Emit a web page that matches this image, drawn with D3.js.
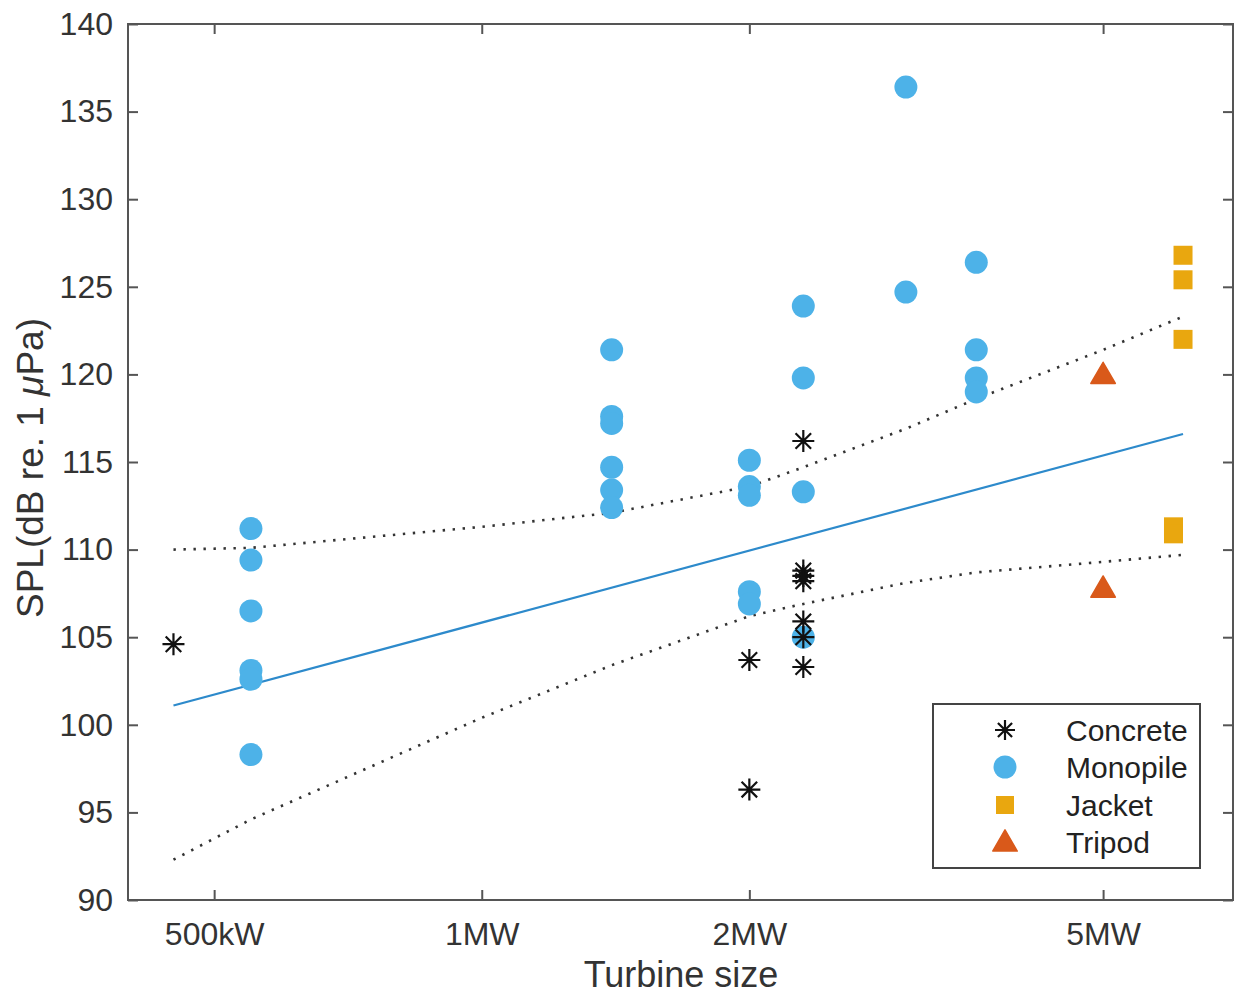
<!DOCTYPE html>
<head>
    <meta charset="utf-8">
    <script src="https://d3js.org/d3.v7.min.js"></script>
    <style>
        body { margin:0; background:#fff; }
        svg text { font-family: "Liberation Sans", Arial, sans-serif; }
    </style>
</head>
<body>
    <svg id="svgelem" width="1235" height="996"></svg>

    <script>
        // turbine sizes in kW, SPL in dB
        var concreteX = [450, 2000, 2000, 2300, 2300, 2300, 2300, 2300, 2300, 2300];
        var concreteY = [104.6, 103.7, 96.3, 116.2, 108.8, 108.5, 108.2, 105.9, 105.0, 103.3];

        var monoX = [550, 550, 550, 550, 550, 550,
                     1400, 1400, 1400, 1400, 1400, 1400,
                     2000, 2000, 2000, 2000, 2000,
                     2300, 2300, 2300, 2300,
                     3000, 3000,
                     3600, 3600, 3600, 3600];
        var monoY = [111.2, 109.4, 106.5, 103.1, 102.6, 98.3,
                     121.4, 117.6, 117.2, 114.7, 113.4, 112.4,
                     115.1, 113.6, 113.1, 107.6, 106.9,
                     123.9, 119.8, 113.3, 105.0,
                     136.4, 124.7,
                     126.4, 121.4, 119.8, 119.0];

        var jacketX = [6150, 6150, 6150, 6000, 6000];
        var jacketY = [126.8, 125.4, 122.0, 111.3, 110.9];

        var tripodX = [5000, 5000];
        var tripodY = [120.0, 107.8];

        // fitted line and bounds
        var fitX = [450, 6150];
        var fitY = [101.1, 116.6];
        var boundX = [450, 550, 1000, 1400, 2000, 2300, 3000, 3600, 5000, 6150];
        var upperY = [110.0, 110.1, 111.3, 112.1, 113.6, 114.7, 116.9, 118.6, 121.4, 123.3];
        var lowerY = [92.3, 94.6, 100.4, 103.4, 106.2, 106.9, 108.1, 108.7, 109.3, 109.7];

        var xTicks = [500, 1000, 2000, 5000];
        var xTickLabels = ["500kW", "1MW", "2MW", "5MW"];
        var yTicks = [90, 95, 100, 105, 110, 115, 120, 125, 130, 135, 140];

        var legendNames = ["Concrete", "Monopile", "Jacket", "Tripod"];

        var blue = "#4DB2E8", orange = "#E9A70F", red = "#D9591A", lineBlue = "#2D8ACB";

        var pLeft = 128, pRight = 1233, pTop = 24, pBottom = 900;
        var svg = d3.select("#svgelem");

        var x = d3.scaleLog().domain([400, 7000]).range([pLeft, pRight]);
        var y = d3.scaleLinear().domain([90, 140]).range([pBottom, pTop]);

        // box
        svg.append("rect")
            .attr("x", pLeft).attr("y", pTop)
            .attr("width", pRight - pLeft).attr("height", pBottom - pTop)
            .attr("fill", "none").attr("stroke", "#555").attr("stroke-width", 2);

        //Axes with inward ticks
        var xAxis = d3.axisBottom(x).tickValues(xTicks)
            .tickFormat(function(d, i) { return xTickLabels[i]; })
            .tickSizeInner(-10).tickSizeOuter(0).tickPadding(22);
        var gx = svg.append("g").attr("transform", "translate(0," + pBottom + ")").call(xAxis);
        gx.selectAll("text").style("font-size", "32px").attr("fill", "#333");

        svg.append("g").attr("transform", "translate(0," + pTop + ")")
            .call(d3.axisTop(x).tickValues(xTicks).tickFormat("").tickSizeInner(-10).tickSizeOuter(0));

        var yAxis = d3.axisLeft(y).tickValues(yTicks).tickSizeInner(-10).tickSizeOuter(0).tickPadding(15);
        var gy = svg.append("g").attr("transform", "translate(" + pLeft + ",0)").call(yAxis);
        gy.selectAll("text").style("font-size", "32px").attr("fill", "#333");

        svg.append("g").attr("transform", "translate(" + pRight + ",0)")
            .call(d3.axisRight(y).tickValues(yTicks).tickFormat("").tickSizeInner(-10).tickSizeOuter(0));

        svg.selectAll(".domain").remove();
        svg.selectAll(".tick line").attr("stroke", "#555").attr("stroke-width", 2);

        //Axis labels
        svg.append("text")
            .attr("x", 681).attr("y", 987)
            .attr("text-anchor", "middle")
            .style("font-size", "36px").attr("fill", "#333")
            .text("Turbine size");

        var yl = svg.append("text")
            .attr("transform", "translate(43,468) rotate(-90)")
            .attr("text-anchor", "middle")
            .style("font-size", "37px").attr("fill", "#333");
        yl.append("tspan").text("SPL(dB re. 1 ");
        yl.append("tspan").style("font-style", "italic").text("\u03bc");
        yl.append("tspan").text("Pa)");

        //Fit line and bounds
        var line = d3.line().x(function(d) { return x(d[0]); }).y(function(d) { return y(d[1]); });

        svg.append("path")
            .datum(d3.zip(fitX, fitY))
            .attr("d", line).attr("fill", "none")
            .attr("stroke", lineBlue).attr("stroke-width", 2.2);

        [upperY, lowerY].forEach(function(ys) {
            svg.append("path")
                .datum(d3.zip(boundX, ys))
                .attr("d", line).attr("fill", "none")
                .attr("stroke", "#333").attr("stroke-width", 2.6)
                .attr("stroke-dasharray", "2.4,7.6");
        });

        //marker drawing
        function asterisk(g, cx, cy, r) {
            var p = "";
            [0, 45, 90, 135].forEach(function(a) {
                var t = a * Math.PI / 180, dx = r * Math.cos(t), dy = r * Math.sin(t);
                p += "M" + (cx - dx) + "," + (cy - dy) + "L" + (cx + dx) + "," + (cy + dy);
            });
            g.append("path").attr("d", p).attr("stroke", "#111").attr("stroke-width", 2.2).attr("fill", "none");
        }
        function circle(g, cx, cy) {
            g.append("circle").attr("cx", cx).attr("cy", cy).attr("r", 11.5).attr("fill", blue);
        }
        function square(g, cx, cy) {
            g.append("rect").attr("x", cx - 9.5).attr("y", cy - 9.5)
                .attr("width", 19).attr("height", 19).attr("fill", orange);
        }
        function triangle(g, cx, cy) {
            g.append("path").attr("transform", "translate(" + cx + "," + (cy + 2) + ")")
                .attr("d", d3.symbol().type(d3.symbolTriangle).size(260)())
                .attr("fill", red).attr("stroke", red).attr("stroke-width", 1.5).attr("stroke-linejoin", "round");
        }

        var pts = svg.append("g");
        monoX.forEach(function(d, i) { circle(pts, x(d), y(monoY[i])); });
        concreteX.forEach(function(d, i) { asterisk(pts, x(d), y(concreteY[i]), 11); });
        jacketX.forEach(function(d, i) { square(pts, x(d), y(jacketY[i])); });
        tripodX.forEach(function(d, i) { triangle(pts, x(d), y(tripodY[i])); });

        //Legend
        var lg = svg.append("g");
        lg.append("rect").attr("x", 933).attr("y", 704).attr("width", 267).attr("height", 164)
            .attr("fill", "#fff").attr("stroke", "#444").attr("stroke-width", 2);
        var rowsY = [730, 767, 805, 842];
        var drawers = [
            function(g, cy) { asterisk(g, 1005, cy, 10); },
            function(g, cy) { circle(g, 1005, cy); },
            function(g, cy) { g.append("rect").attr("x", 996).attr("y", cy - 9).attr("width", 18).attr("height", 18).attr("fill", orange); },
            function(g, cy) { triangle(g, 1005, cy); }
        ];
        legendNames.forEach(function(name, i) {
            drawers[i](lg, rowsY[i]);
            lg.append("text").attr("x", 1066).attr("y", rowsY[i]).attr("dy", "0.36em")
                .style("font-size", "30px").attr("fill", "#222").text(name);
        });
    </script>
</body>
